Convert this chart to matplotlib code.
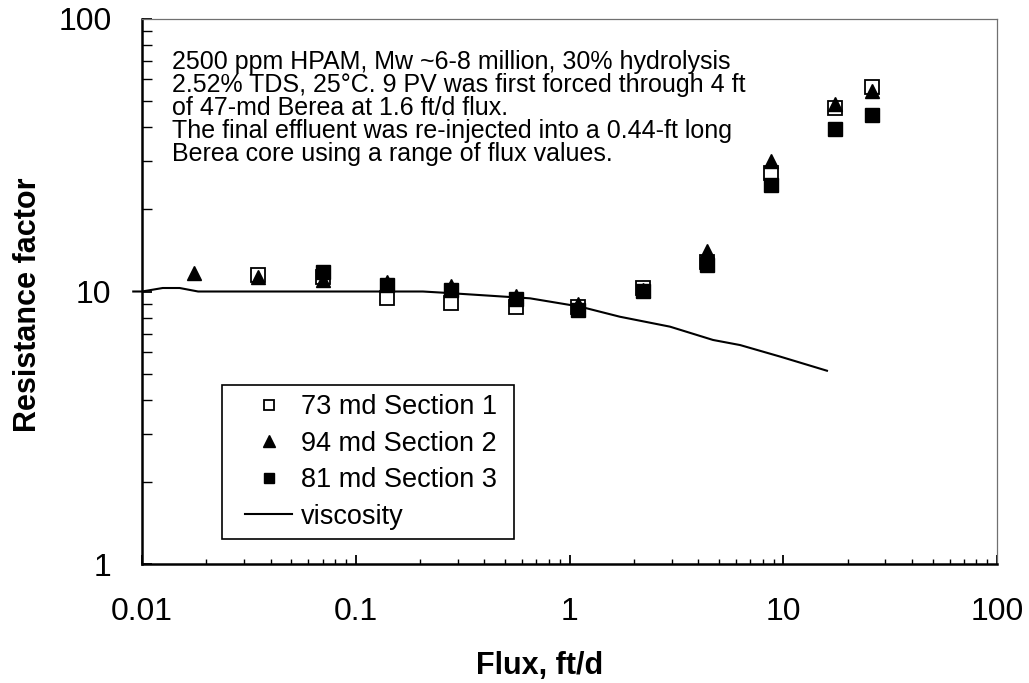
import matplotlib
matplotlib.use("Agg")
import matplotlib.pyplot as plt
from matplotlib.patches import Rectangle
from matplotlib.ticker import LogLocator, NullFormatter, FixedLocator, FixedFormatter

plt.rcParams['font.family'] = ['Liberation Sans', 'DejaVu Sans']

# ---- data ----
flux = [0.0175, 0.035, 0.07, 0.14, 0.28, 0.56, 1.1, 2.2, 4.4, 8.8, 17.5, 26]
flux_s1 = flux[1:]
rf_s1 = [11.5, 11.3, 9.46, 9.07, 8.77, 8.8, 10.34, 12.8, 27.2, 47.1, 56.4]
flux_s2 = flux
rf_s2 = [11.7, 11.35, 11.0, 10.8, 10.5, 9.66, 9.0, 10.1, 14.1, 30.0, 48.6, 54.5]
flux_s3 = flux[2:]
rf_s3 = [11.8, 10.56, 10.13, 9.39, 8.55, 10.08, 12.49, 24.55, 39.5, 44.4]

visc_flux = [0.0091, 0.01, 0.0125, 0.015, 0.0183, 0.206, 0.256, 0.425, 0.653, 1.12,
             1.72, 2.95, 4.69, 6.28, 9.66, 16.0]
visc_rf = [10.0, 10.0, 10.3, 10.3, 10.0, 10.0, 9.9, 9.65, 9.44, 8.8,
           8.08, 7.43, 6.64, 6.36, 5.77, 5.12]

labels = ["73 md Section 1", "94 md Section 2", "81 md Section 3", "viscosity"]
xticks = [0.01, 0.1, 1, 10, 100]
xticklabels = ["0.01", "0.1", "1", "10", "100"]
yticks = [1, 10, 100]
yticklabels = ["1", "10", "100"]

note = ("2500 ppm HPAM, Mw ~6-8 million, 30% hydrolysis\n"
        "2.52% TDS, 25\u00b0C. 9 PV was first forced through 4 ft\n"
        "of 47-md Berea at 1.6 ft/d flux.\n"
        "The final effluent was re-injected into a 0.44-ft long\n"
        "Berea core using a range of flux values.")

# ---- figure ----
fig = plt.figure(figsize=(10.29, 6.83), dpi=100)
ax = fig.add_axes([0.138, 0.1742, 0.831, 0.798])

ax.plot(flux_s1, rf_s1, linestyle='none', marker='s', ms=9.4, mfc='white',
        mec='black', mew=1.3, label=labels[0], zorder=3)
ax.plot(flux_s2, rf_s2, linestyle='none', marker='^', ms=10.5, mfc='black',
        mec='black', label=labels[1], zorder=4)
ax.plot(flux_s3, rf_s3, linestyle='none', marker='s', ms=9.4, mfc='black',
        mec='black', label=labels[2], zorder=5)
ax.plot(visc_flux, visc_rf, color='black', lw=1.5, label=labels[3],
        clip_on=False, zorder=2)

ax.set_xscale('log')
ax.set_yscale('log')
ax.set_xlim(0.01, 100)
ax.set_ylim(1, 100)

ax.xaxis.set_major_locator(FixedLocator(xticks))
ax.xaxis.set_major_formatter(FixedFormatter(xticklabels))
ax.yaxis.set_major_locator(FixedLocator(yticks))
ax.yaxis.set_major_formatter(FixedFormatter(yticklabels))
ax.xaxis.set_minor_locator(LogLocator(base=10, subs=range(2, 10)))
ax.yaxis.set_minor_locator(LogLocator(base=10, subs=range(2, 10)))
ax.xaxis.set_minor_formatter(NullFormatter())
ax.yaxis.set_minor_formatter(NullFormatter())

ax.tick_params(axis='x', which='major', direction='in', length=6.5, width=1.3,
               labelsize=23, pad=24)
ax.tick_params(axis='x', which='minor', direction='in', length=3.6, width=1.0)
ax.tick_params(axis='y', which='major', direction='in', length=7.5, width=1.3,
               labelsize=23, pad=22)
ax.tick_params(axis='y', which='minor', direction='in', length=7.0, width=1.0)

for s in ['left', 'bottom']:
    ax.spines[s].set_linewidth(1.8)
    ax.spines[s].set_color('black')
for s in ['top', 'right']:
    ax.spines[s].set_linewidth(0.9)
    ax.spines[s].set_color('#707070')

ax.set_xlabel("Flux, ft/d", fontsize=22, fontweight='bold')
ax.xaxis.set_label_coords(0.4655, -0.16)
ax.set_ylabel("Resistance factor", fontsize=22, fontweight='bold')
ax.yaxis.set_label_coords(-0.116, 0.475)

ax.text(0.035, 0.943, note, transform=ax.transAxes, ha='left', va='top',
        fontsize=18, linespacing=0.95)

leg = ax.legend(loc='lower left', bbox_to_anchor=(0.1205, 0.063),
                borderaxespad=0, fontsize=19.5, frameon=False,
                handlelength=1.75, handletextpad=0.3, labelspacing=0.39,
                borderpad=0.0, markerscale=0.8)
leg.set_zorder(7)

# legend frame with Excel-like padding (wider left/right than top/bottom)
fig.canvas.draw()
bb = leg.get_window_extent()
inv = ax.transAxes.inverted()
(x0, y0) = inv.transform((bb.x0 - 23, bb.y0 - 9))
(x1, y1) = inv.transform((bb.x1 + 17, bb.y1 + 9))
ax.add_patch(Rectangle((x0, y0), x1 - x0, y1 - y0, transform=ax.transAxes,
                       facecolor='white', edgecolor='black', lw=1.2,
                       clip_on=False, zorder=6))

fig.savefig("out.png", dpi=100)
